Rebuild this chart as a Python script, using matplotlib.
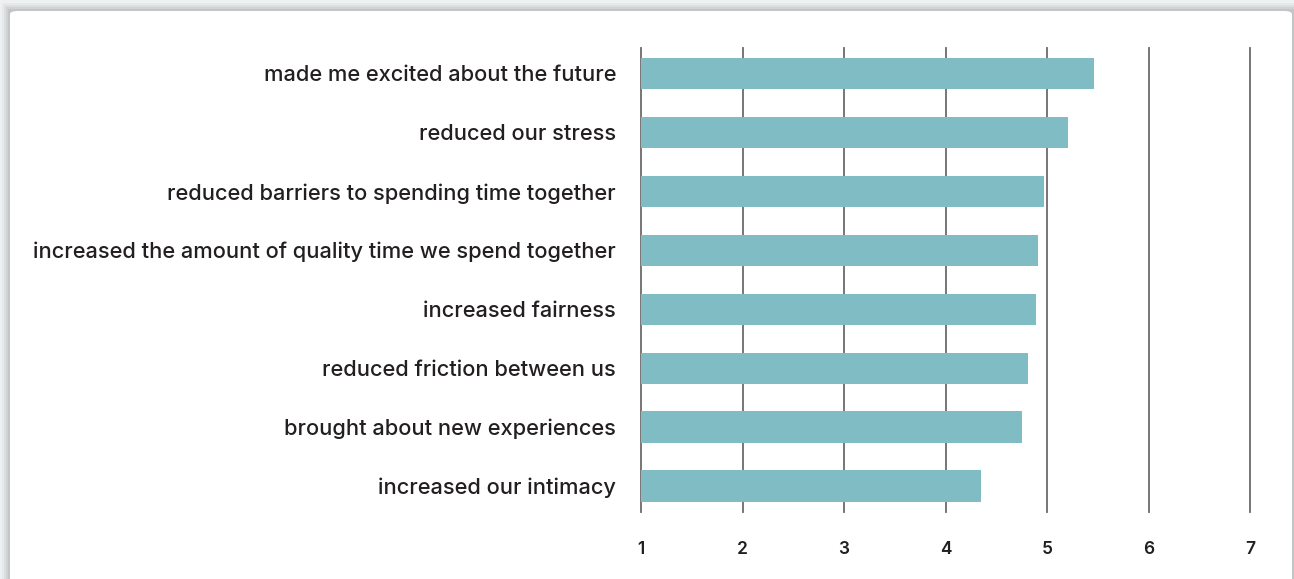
import matplotlib
matplotlib.use("Agg")
import matplotlib.pyplot as plt
from matplotlib.patches import FancyBboxPatch
import numpy as np

# survey statements and their average agreement score (1-7 scale)
statements = [
    "made me excited about the future",
    "reduced our stress",
    "reduced barriers to spending time together",
    "increased the amount of quality time we spend together",
    "increased fairness",
    "reduced friction between us",
    "brought about new experiences",
    "increased our intimacy",
]
scores = [5.46, 5.21, 4.97, 4.91, 4.89, 4.81, 4.75, 4.35]
ticks = [1, 2, 3, 4, 5, 6, 7]

bar_color = "#80bcc3"
grid_color = "#6f6a6a"
text_color = "#231f20"

plt.rcParams['font.family'] = ['Inter', 'DejaVu Sans']

W, H = 1294, 579
fig = plt.figure(figsize=(W / 100, H / 100), dpi=100)
fig.patch.set_facecolor("#eef1f1")

# soft shadow + white card behind the chart
for i, a in enumerate([0.03, 0.04, 0.05, 0.06]):
    off = 8 - 2 * i
    fig.patches.append(FancyBboxPatch(
        ((10 - off) / W, 0), (1282 + 2 * off) / W, (H - 11 + off) / H,
        boxstyle="square,pad=0", transform=fig.transFigure,
        facecolor="black", edgecolor="none", alpha=a, zorder=0))
fig.patches.append(FancyBboxPatch(
    (10 / W, -0.05), 1282 / W, (H - 11) / H + 0.05,
    boxstyle="round,pad=0,rounding_size=0.006", transform=fig.transFigure,
    facecolor="white", edgecolor="none", zorder=1))

ax = fig.add_axes([641 / W, 1 - 512 / H, (1250 - 641) / W, (512 - 48) / H])
ax.set_facecolor("none")
ax.set_zorder(2)

y = np.arange(len(statements))
ax.barh(y, [s - 1 for s in scores], left=1, height=0.53,
        color=bar_color, zorder=3)

for t in ticks:
    ax.axvline(t, color=grid_color, linewidth=1.3, zorder=1, clip_on=False)

ax.set_xlim(1, 7)
ax.set_ylim(len(statements) - 0.56, -0.43)
ax.set_xticks(ticks)
ax.set_xticklabels([str(t) for t in ticks], fontsize=12.5, fontweight="semibold",
                   color=text_color)
ax.set_yticks(y)
ax.set_yticklabels(statements, fontsize=15.7, fontweight="medium",
                   color=text_color)
ax.tick_params(axis="x", length=0, pad=21)
ax.tick_params(axis="y", length=0, pad=18)
for sp in ax.spines.values():
    sp.set_visible(False)

fig.savefig("out.png", dpi=100, facecolor=fig.get_facecolor())
